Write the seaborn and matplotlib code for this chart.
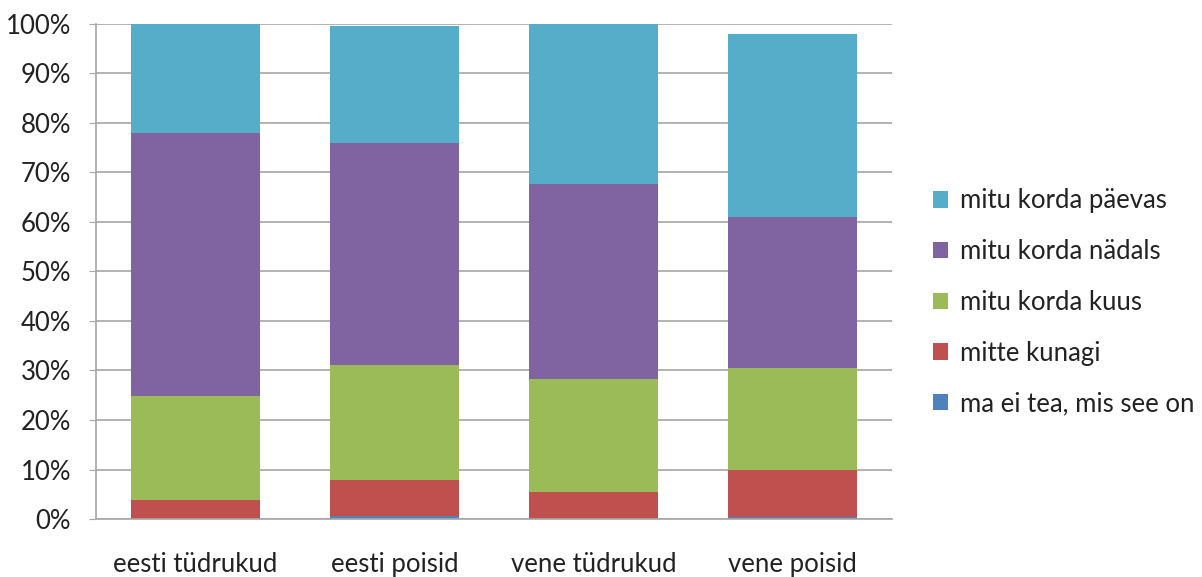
import matplotlib
matplotlib.use('Agg')
import matplotlib.pyplot as plt
import seaborn as sns
import numpy as np
from matplotlib.patches import Patch
from matplotlib.ticker import PercentFormatter

groups = ['eesti tüdrukud', 'eesti poisid', 'vene tüdrukud', 'vene poisid']
series = ['ma ei tea, mis see on', 'mitte kunagi', 'mitu korda kuus',
          'mitu korda nädals', 'mitu korda päevas']
ei_tea = [0.0, 0.7, 0.0, 0.35]
mitte_kunagi = [3.8, 7.1, 5.5, 9.45]
korda_kuus = [21.0, 23.3, 22.8, 20.7]
korda_nadalas = [53.2, 44.9, 39.3, 30.6]
korda_paevas = [22.0, 23.6, 32.4, 36.8]
colors = ['#4F81BD', '#C0504D', '#9BBB59', '#8064A2', '#55ADC9']

sns.set_style('white')
plt.rcParams['font.family'] = ['Lato', 'DejaVu Sans']

fig = plt.figure(figsize=(12.02, 5.77), dpi=100)
ax = fig.add_axes([0.0799, 0.1005, 0.662, 0.858])

bottom = np.zeros(len(groups))
for name, vals, col in zip(series, [ei_tea, mitte_kunagi, korda_kuus, korda_nadalas, korda_paevas], colors):
    sns.barplot(x=groups, y=vals, bottom=bottom, color=col, width=0.65,
                saturation=1, ax=ax, linewidth=0)
    bottom += np.array(vals)

ax.set_ylim(0, 100)
ax.set_yticks(range(0, 101, 10))
ax.yaxis.set_major_formatter(PercentFormatter(decimals=0))
ax.grid(axis='y', color='#A6A6A6', linewidth=1.2)
ax.set_axisbelow(True)
for s in ['top', 'right']:
    ax.spines[s].set_visible(False)
for s in ['left', 'bottom']:
    ax.spines[s].set_color('#A6A6A6')
    ax.spines[s].set_linewidth(1.2)
ax.tick_params(axis='y', left=True, length=5, color='#A6A6A6', labelsize=18.5, pad=13)
ax.tick_params(axis='x', bottom=False, labelsize=18.5, pad=20)
for lbl in ax.get_xticklabels() + ax.get_yticklabels():
    lbl.set_color('#222222')
ax.set_xlabel('')
ax.set_ylabel('')

handles = [Patch(facecolor=c, edgecolor='none') for c in colors]
leg = fig.legend(handles[::-1], series[::-1], loc='center left',
                 bbox_to_anchor=(0.757, 0.476), frameon=False, fontsize=18.5,
                 handlelength=0.6, handleheight=0.6, handletextpad=0.45,
                 labelspacing=1.0)
for t in leg.get_texts():
    t.set_color('#222222')

fig.savefig('out.png', dpi=100)
